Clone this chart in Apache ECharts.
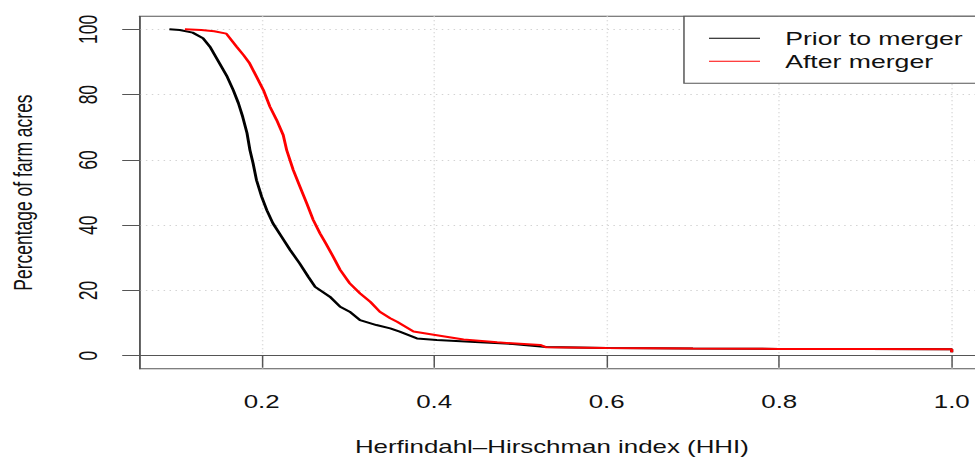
<!DOCTYPE html>
<html>
<head>
<meta charset="utf-8">
<script src="https://cdn.jsdelivr.net/npm/echarts@6/dist/echarts.min.js"></script>
<style>
html, body { margin: 0; padding: 0; background: #fff; overflow: hidden; width: 975px; height: 458px; }
#chart { width: 659px; height: 458px; transform: scaleX(1.4795); transform-origin: 0 0; }
</style>
</head>
<body>
<div id="chart"></div>
<script>
// Prior to merger (black)
const priorHHI = [0.093, 0.105, 0.120, 0.132, 0.140, 0.149, 0.160, 0.167, 0.173, 0.178, 0.183, 0.1864, 0.190, 0.194, 0.200, 0.206, 0.213, 0.223, 0.233, 0.244, 0.254, 0.262, 0.279, 0.291, 0.302, 0.314, 0.333, 0.349, 0.360, 0.380, 0.403, 0.453, 0.491, 0.530, 0.600, 0.700, 0.800, 0.900, 1.000, 1.000];
const priorPct = [100, 99.8, 99.0, 97.3, 94.7, 90.6, 85.5, 81.4, 77.4, 73.2, 68.2, 63.0, 59.0, 53.8, 48.7, 44.6, 40.6, 36.5, 32.4, 28.3, 24.2, 21.1, 18.1, 15.0, 13.5, 10.9, 9.4, 8.4, 7.4, 5.3, 4.8, 4.1, 3.6, 2.7, 2.4, 2.2, 2.1, 2.05, 2.0, 1.1];
// After merger (red)
const afterHHI = [0.111, 0.130, 0.145, 0.159, 0.171, 0.179, 0.186, 0.194, 0.202, 0.2096, 0.2174, 0.225, 0.229, 0.2366, 0.2444, 0.2522, 0.2598, 0.2676, 0.274, 0.283, 0.291, 0.302, 0.314, 0.326, 0.337, 0.349, 0.357, 0.376, 0.403, 0.434, 0.473, 0.523, 0.530, 0.600, 0.700, 0.800, 0.900, 1.000, 1.000];
const afterPct = [100, 99.8, 99.4, 98.7, 94.7, 92.1, 89.6, 85.5, 81.4, 76.3, 72.2, 67.6, 63.0, 56.9, 51.8, 46.7, 41.6, 37.5, 34.6, 30.3, 26.3, 22.2, 19.1, 16.5, 13.5, 11.5, 10.4, 7.4, 6.3, 5.0, 4.1, 3.3, 2.6, 2.4, 2.2, 2.1, 2.05, 2.0, 1.1];
const xTicks = [0.2, 0.4, 0.6, 0.8, 1.0];
const yTicks = [0, 20, 40, 60, 80, 100];
const seriesNames = ['Prior to merger', 'After merger'];
const xTitle = 'Herfindahl\u2013Hirschman index (HHI)';
const yTitle = 'Percentage of farm acres';

const zip = (a, b) => a.map((v, i) => [v, b[i]]);
const FONT = '"Liberation Sans", Arial, sans-serif';
const FS = 17.5;

const chart = echarts.init(document.getElementById('chart'), null, { renderer: 'svg' });
chart.setOption({
  animation: false,
  backgroundColor: '#fff',
  textStyle: { fontFamily: FONT },
  grid: {
    left: 94.6, top: 16.3, width: 569.8, height: 352.5,
    outerBoundsMode: 'none', containLabel: false,
    show: true, borderColor: '#555', borderWidth: 1, backgroundColor: 'transparent'
  },
  legend: {
    orient: 'vertical',
    left: 462.3, top: 16.3,
    padding: [10.5, 40, 10.5, 16.9],
    itemGap: 0,
    itemWidth: 34.5, itemHeight: 1,
    icon: 'rect',
    borderColor: '#555', borderWidth: 1,
    backgroundColor: '#fff',
    textStyle: { fontFamily: FONT, fontSize: 18, color: '#111', lineHeight: 23, padding: [0, 0, 0, 12] },
    data: seriesNames
  },
  xAxis: {
    type: 'value',
    min: 0.0589, max: 1.0362,
    name: xTitle,
    nameLocation: 'middle',
    nameGap: 69,
    nameTextStyle: { fontFamily: FONT, fontSize: FS, color: '#111', padding: [0, 13, 0, 0] },
    axisLine: { show: true, lineStyle: { color: '#555', width: 1 } },
    axisTick: { show: true, length: 12, inside: false, customValues: xTicks, lineStyle: { color: '#555' } },
    axisLabel: { customValues: xTicks, margin: 24, fontSize: FS, color: '#111', fontFamily: FONT,
      formatter: v => v.toFixed(1) },
    splitLine: { show: true, lineStyle: { color: '#d3d3d3', type: [1, 3], width: 1 } }
  },
  yAxis: {
    type: 'value',
    min: -4, max: 104,
    name: yTitle,
    nameLocation: 'middle',
    nameRotate: 90,
    nameGap: 70,
    nameTextStyle: { fontFamily: FONT, fontSize: FS, color: '#111' },
    axisLine: { show: true, lineStyle: { color: '#555', width: 1 } },
    axisTick: { show: true, length: 12, inside: false, customValues: yTicks, lineStyle: { color: '#555' } },
    axisLabel: { customValues: yTicks, rotate: 90, margin: 26, fontSize: FS, color: '#111', fontFamily: FONT },
    splitLine: { show: true, lineStyle: { color: '#d3d3d3', type: [1, 3], width: 1 } }
  },
  series: [
    {
      name: seriesNames[0], type: 'line', data: zip(priorHHI, priorPct),
      showSymbol: false, symbol: 'none', smooth: false,
      lineStyle: { color: '#000', width: 2 }, itemStyle: { color: '#000' }, z: 2
    },
    {
      name: seriesNames[1], type: 'line', data: zip(afterHHI, afterPct),
      showSymbol: false, symbol: 'none', smooth: false,
      lineStyle: { color: '#ff0000', width: 2 }, itemStyle: { color: '#ff0000' }, z: 3
    }
  ]
});
</script>
</body>
</html>
